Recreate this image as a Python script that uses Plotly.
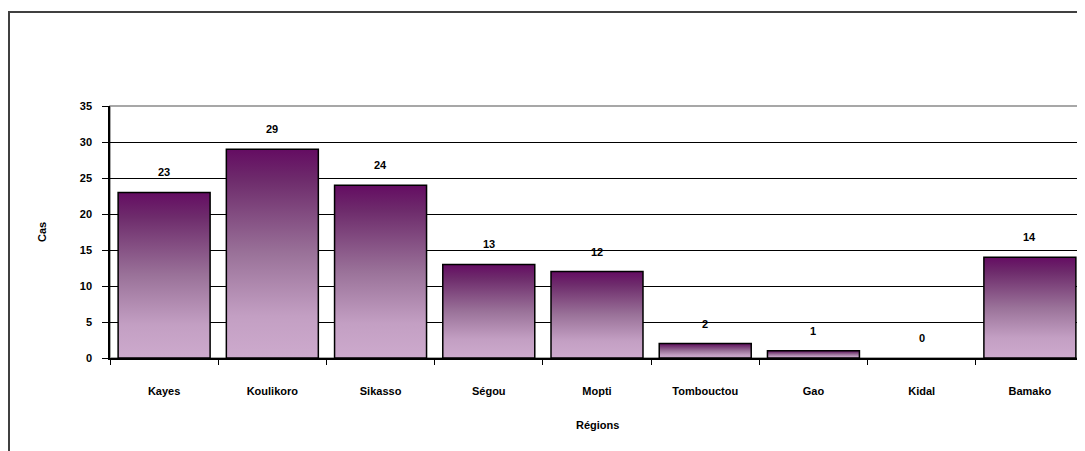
import plotly.graph_objects as go

categories = ["Kayes", "Koulikoro", "Sikasso", "Ségou", "Mopti", "Tombouctou", "Gao", "Kidal", "Bamako"]
cases = [23, 29, 24, 13, 12, 2, 1, 0, 14]
y_ticks = [0, 5, 10, 15, 20, 25, 30, 35]

BAR_HALF = 0.425
FONT = dict(family="Liberation Sans, Arial, sans-serif", size=11, color="black", weight="bold")
gradient = [[0.0, "#cdaacd"], [0.2, "#c39fc3"], [0.5, "#9a7299"], [0.85, "#6e2c6c"], [1.0, "#640c62"]]

fig = go.Figure()

for i, v in enumerate(cases):
    if v <= 0:
        continue
    xs = [i - BAR_HALF, i - BAR_HALF, i + BAR_HALF, i + BAR_HALF, i - BAR_HALF]
    ys = [0, v, v, 0, 0]
    fig.add_trace(go.Scatter(
        x=xs, y=ys, mode="lines", fill="toself",
        fillgradient=dict(type="vertical", colorscale=gradient),
        line=dict(color="black", width=1.5),
        hoverinfo="skip", showlegend=False,
    ))

# hover/data carrier
fig.add_trace(go.Scatter(x=list(range(len(categories))), y=cases, mode="markers",
                         marker=dict(opacity=0), showlegend=False,
                         hovertemplate="%{text}: %{y}<extra></extra>", text=categories))

for i, v in enumerate(cases):
    fig.add_annotation(x=i, y=v, text=str(v), showarrow=False, yshift=20,
                       yanchor="middle", font=FONT)

fig.update_xaxes(
    range=[-0.5, len(categories) - 0.5],
    tickmode="array", tickvals=list(range(len(categories))), ticktext=categories,
    ticks="", ticklabelstandoff=22,
    minor=dict(tickmode="linear", tick0=-0.5, dtick=1, ticks="outside", ticklen=5,
               tickcolor="black", showgrid=False),
    showline=True, linecolor="black", linewidth=1.5,
    showgrid=False, zeroline=False, tickfont=FONT,
)
fig.update_yaxes(
    range=[0, 35], tickmode="array", tickvals=y_ticks,
    ticks="outside", ticklen=6, tickcolor="black", ticklabelstandoff=8,
    showline=True, linecolor="black", linewidth=1.5,
    showgrid=True, gridcolor="black", gridwidth=1, zeroline=False, tickfont=FONT,
)

# plot-area border (grey) and outer chart frame
fig.add_shape(type="rect", xref="paper", yref="paper", x0=0, x1=1, y0=0, y1=1,
              line=dict(color="#8a8a8a", width=1.5), layer="below")
fig.add_shape(type="rect", xref="paper", yref="paper", x0=-0.1037, x1=1.05, y0=-0.6, y1=1.373,
              line=dict(color="#404040", width=2))

fig.add_annotation(xref="paper", yref="paper", x=-0.078, y=0.5, text="Cas", textangle=-90,
                   showarrow=False, font=FONT)
fig.add_annotation(xref="paper", yref="paper", x=0.5, y=-0.266, text="Régions",
                   showarrow=False, yanchor="middle", font=FONT)

fig.update_layout(
    width=1077, height=443,
    margin=dict(l=102, r=1, t=98, b=93),
    paper_bgcolor="white", plot_bgcolor="white",
    showlegend=False, font=FONT,
)

fig.write_html("out.html")
